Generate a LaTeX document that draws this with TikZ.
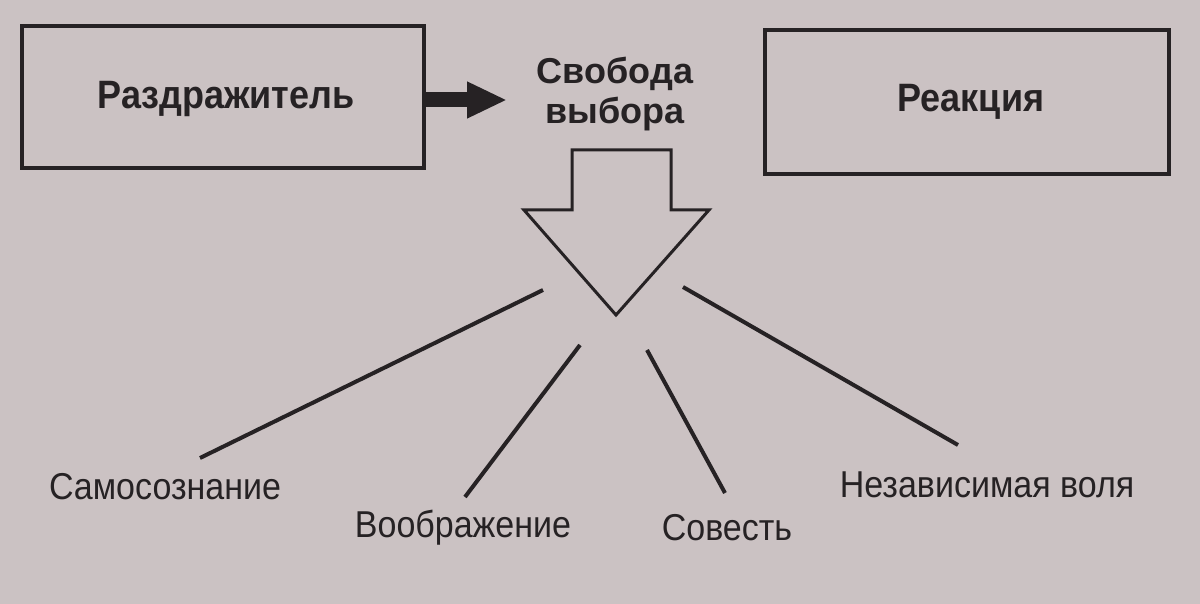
\documentclass[tikz,border=0pt]{standalone}
\usepackage{fontspec}
\setmainfont{Liberation Sans}
\usetikzlibrary{arrows.meta}
\definecolor{paper}{RGB}{203,194,195}
\definecolor{ink}{RGB}{38,34,36}
\newcommand{\talltext}[1]{\scalebox{1}[1.1]{#1}}
\tikzset{
  box/.style={draw=ink, line width=2pt, rectangle, inner sep=0pt},
  boldlbl/.style={text=ink, font=\fontsize{18}{21}\selectfont\bfseries, inner sep=0pt},
  lbl/.style={text=ink, font=\fontsize{17}{20}\selectfont, inner sep=0pt},
  branch/.style={draw=ink, line width=2pt},
}
\begin{document}
\begin{tikzpicture}[x=0.5pt,y=-0.5pt]
\fill[paper] (0,0) rectangle (1200,604);
\useasboundingbox (0,0) rectangle (1200,604);
\node[box, minimum width=201pt, minimum height=71pt] (stim) at (223,97) {};
\node[boldlbl] (stimtxt) at (226,99) {\talltext{Раздражитель}};
\node[box, minimum width=202pt, minimum height=72pt] (resp) at (967,102) {};
\node[boldlbl] (resptxt) at (971,102) {\talltext{Реакция}};
\node[boldlbl, align=center, font=\fontsize{18}{20}\selectfont\bfseries] (free) at (615,94) {Свобода\\выбора};
\coordinate (arrend) at (507,100);
\draw[ink, line width=7.5pt, -{Triangle[length=20pt,width=17pt]}] (stim.east |- arrend) -- (arrend);
\draw[ink, line width=1.5pt, line join=miter] (572,150) -- (671,150) -- (671,210) -- (709,210) -- (616,315) -- (524,210) -- (572,210) -- cycle;
\coordinate (s1) at (543,290); \coordinate (e1) at (200,458);
\coordinate (s2) at (580,345); \coordinate (e2) at (465,497);
\coordinate (s3) at (647,350); \coordinate (e3) at (725,493);
\coordinate (s4) at (683,287); \coordinate (e4) at (958,445);
\draw[branch] (s1) -- (e1);
\draw[branch] (s2) -- (e2);
\draw[branch] (s3) -- (e3);
\draw[branch] (s4) -- (e4);
\node[lbl] (l1) at (165,487) {\talltext{Самосознание}};
\node[lbl] (l2) at (463,528) {\talltext{Воображение}};
\node[lbl] (l3) at (727,528) {\talltext{Совесть}};
\node[lbl] (l4) at (987,485) {\talltext{Независимая воля}};
\end{tikzpicture}
\end{document}
